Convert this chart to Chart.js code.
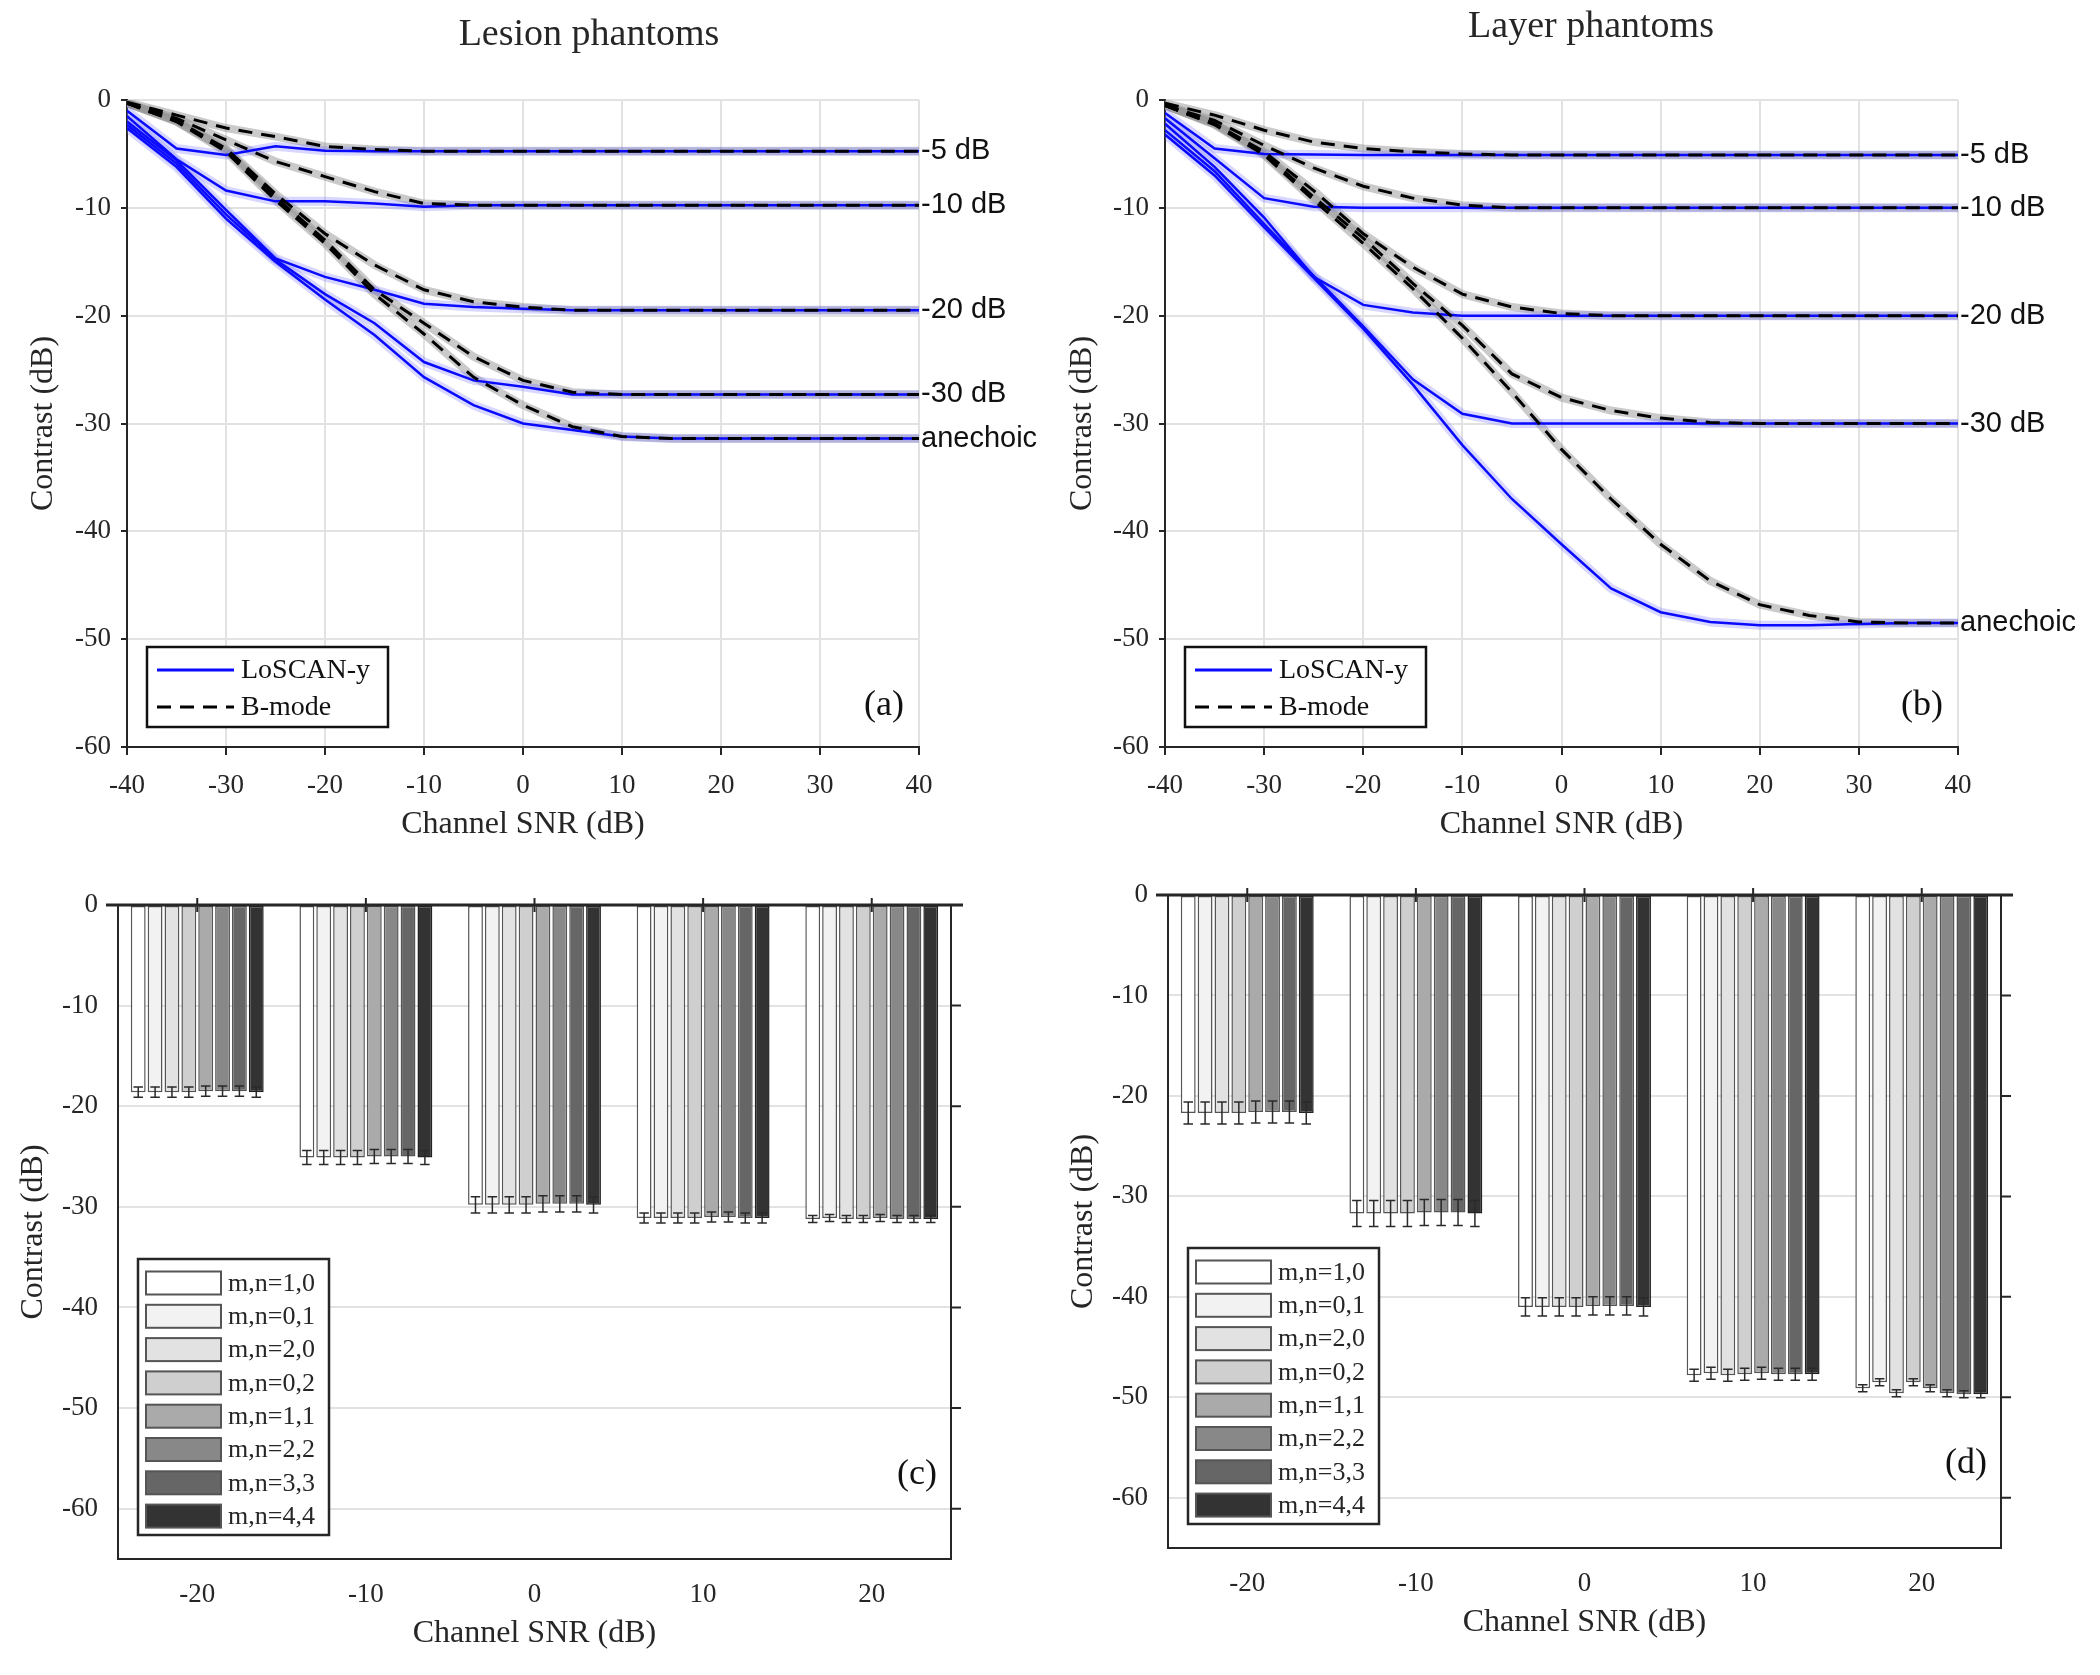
<!DOCTYPE html>
<html>
<head>
<meta charset="utf-8">
<script src="https://cdn.jsdelivr.net/npm/chart.js@4.4.1/dist/chart.umd.min.js"></script>
<style>
html,body{margin:0;padding:0;background:#fff;}
#wrap{position:relative;width:2100px;height:1675px;overflow:hidden;background:#fff;}
canvas{position:absolute;}
</style>
</head>
<body>
<div id="wrap">
<canvas id="ca" width="1050" height="850" style="left:0;top:0"></canvas>
<canvas id="cb" width="1050" height="850" style="left:1050px;top:0"></canvas>
<canvas id="cc" width="1050" height="825" style="left:0;top:850px"></canvas>
<canvas id="cd" width="1050" height="825" style="left:1050px;top:850px"></canvas>
</div>
<script>
// ================= DATA =================
const snr = [-40,-35,-30,-25,-20,-15,-10,-5,0,5,10,15,20,25,30,35,40];
const lineXTicks = [-40,-30,-20,-10,0,10,20,30,40];
const lineYTicks = [-60,-50,-40,-30,-20,-10,0];
const targetLabels = ['-5 dB','-10 dB','-20 dB','-30 dB','anechoic'];
const methodLabels = ['LoSCAN-y','B-mode'];

// (a) Lesion phantoms
const lesionLoscan5  = [-1.0,-4.5,-5.1,-4.3,-4.7,-4.75,-4.75,-4.75,-4.75,-4.75,-4.75,-4.75,-4.75,-4.75,-4.75,-4.75,-4.75];
const lesionLoscan10 = [-1.5,-5.5,-8.4,-9.4,-9.4,-9.6,-9.9,-9.75,-9.75,-9.75,-9.75,-9.75,-9.75,-9.75,-9.75,-9.75,-9.75];
const lesionLoscan20 = [-2.0,-5.6,-10.2,-14.7,-16.4,-17.6,-18.9,-19.2,-19.35,-19.5,-19.5,-19.5,-19.5,-19.5,-19.5,-19.5,-19.5];
const lesionLoscan30 = [-2.3,-5.9,-10.6,-14.8,-18.0,-20.7,-24.3,-26.0,-26.6,-27.3,-27.3,-27.3,-27.3,-27.3,-27.3,-27.3,-27.3];
const lesionLoscanAn = [-2.6,-6.2,-11.0,-15.0,-18.5,-21.8,-25.7,-28.3,-30.0,-30.6,-31.2,-31.4,-31.4,-31.4,-31.4,-31.4,-31.4];
const lesionBmode5   = [-0.2,-1.4,-2.6,-3.4,-4.3,-4.6,-4.75,-4.75,-4.75,-4.75,-4.75,-4.75,-4.75,-4.75,-4.75,-4.75,-4.75];
const lesionBmode10  = [-0.3,-1.7,-3.7,-5.7,-7.1,-8.5,-9.6,-9.75,-9.75,-9.75,-9.75,-9.75,-9.75,-9.75,-9.75,-9.75,-9.75];
const lesionBmode20  = [-0.3,-1.9,-4.5,-8.7,-12.4,-15.3,-17.6,-18.7,-19.2,-19.5,-19.5,-19.5,-19.5,-19.5,-19.5,-19.5,-19.5];
const lesionBmode30  = [-0.3,-2.0,-4.6,-9.0,-13.0,-17.6,-20.7,-23.8,-26.0,-27.1,-27.3,-27.3,-27.3,-27.3,-27.3,-27.3,-27.3];
const lesionBmodeAn  = [-0.3,-2.0,-4.8,-9.3,-13.3,-18.0,-21.7,-25.7,-28.3,-30.3,-31.2,-31.4,-31.4,-31.4,-31.4,-31.4,-31.4];

// (b) Layer phantoms
const layerLoscan5  = [-1.2,-4.5,-5.0,-5.05,-5.1,-5.1,-5.1,-5.1,-5.1,-5.1,-5.1,-5.1,-5.1,-5.1,-5.1,-5.1,-5.1];
const layerLoscan10 = [-1.7,-5.4,-9.1,-9.9,-10.0,-10.0,-10.0,-10.0,-10.0,-10.0,-10.0,-10.0,-10.0,-10.0,-10.0,-10.0,-10.0];
const layerLoscan20 = [-2.2,-6.2,-10.9,-16.4,-19.0,-19.7,-20.0,-20.0,-20.0,-20.0,-20.0,-20.0,-20.0,-20.0,-20.0,-20.0,-20.0];
const layerLoscan30 = [-2.8,-6.6,-11.5,-16.3,-21.0,-25.9,-29.1,-30.0,-30.0,-30.0,-30.0,-30.0,-30.0,-30.0,-30.0,-30.0,-30.0];
const layerLoscanAn = [-3.2,-7.0,-11.8,-16.5,-21.2,-26.4,-32.0,-37.0,-41.2,-45.3,-47.5,-48.4,-48.7,-48.7,-48.6,-48.5,-48.5];
const layerBmode5   = [-0.3,-1.4,-2.8,-3.9,-4.5,-4.8,-5.0,-5.1,-5.1,-5.1,-5.1,-5.1,-5.1,-5.1,-5.1,-5.1,-5.1];
const layerBmode10  = [-0.5,-1.9,-4.2,-6.3,-8.0,-9.1,-9.75,-10.0,-10.0,-10.0,-10.0,-10.0,-10.0,-10.0,-10.0,-10.0,-10.0];
const layerBmode20  = [-0.5,-2.2,-4.8,-8.4,-12.4,-15.5,-18.0,-19.2,-19.8,-20.0,-20.0,-20.0,-20.0,-20.0,-20.0,-20.0,-20.0];
const layerBmode30  = [-0.5,-2.2,-5.0,-9.0,-12.8,-17.0,-20.9,-25.4,-27.6,-28.8,-29.5,-29.9,-30.0,-30.0,-30.0,-30.0,-30.0];
const layerBmodeAn  = [-0.5,-2.3,-5.1,-9.3,-13.3,-17.5,-22.1,-27.1,-32.4,-37.0,-41.2,-44.6,-46.8,-47.8,-48.4,-48.5,-48.5];

// (c), (d) bar charts
const barSnr = [-20,-10,0,10,20];
const barYTicks = [-60,-50,-40,-30,-20,-10,0];
const kernelLabels = ['m,n=1,0','m,n=0,1','m,n=2,0','m,n=0,2','m,n=1,1','m,n=2,2','m,n=3,3','m,n=4,4'];

const lesionBar10 = [-18.6,-25.1,-29.8,-31.1,-31.2];
const lesionBar01 = [-18.6,-25.1,-29.8,-31.1,-31.1];
const lesionBar20 = [-18.6,-25.1,-29.8,-31.1,-31.2];
const lesionBar02 = [-18.6,-25.1,-29.8,-31.1,-31.2];
const lesionBar11 = [-18.5,-25.0,-29.7,-31.0,-31.1];
const lesionBar22 = [-18.5,-25.0,-29.7,-31.0,-31.2];
const lesionBar33 = [-18.5,-25.0,-29.7,-31.1,-31.2];
const lesionBar44 = [-18.6,-25.1,-29.8,-31.1,-31.2];
const lesionBarStd = [0.5,0.7,0.8,0.5,0.35];

const layerBar10 = [-21.7,-31.7,-41.0,-47.8,-49.1];
const layerBar01 = [-21.7,-31.7,-41.0,-47.6,-48.5];
const layerBar20 = [-21.7,-31.7,-41.0,-47.8,-49.6];
const layerBar02 = [-21.7,-31.7,-41.0,-47.7,-48.5];
const layerBar11 = [-21.6,-31.6,-40.9,-47.6,-49.1];
const layerBar22 = [-21.6,-31.6,-40.9,-47.7,-49.6];
const layerBar33 = [-21.6,-31.6,-40.9,-47.7,-49.7];
const layerBar44 = [-21.7,-31.7,-41.0,-47.7,-49.7];
const layerBarStd = [1.1,1.3,0.9,0.6,0.35];

// ================= STYLE =================
const SERIF = "'Liberation Serif','Times New Roman',serif";
const SANS = "'Liberation Sans',Arial,sans-serif";
const TXT = '#262626';
const BLUE = '#0a0aff';
const kernelColors = ['#ffffff','#f2f2f2','#e2e2e2','#cfcfcf','#aaaaaa','#888888','#666666','#333333'];
const tickFont = {family:SERIF, size:27};
const titleFont = {family:SERIF, size:32};

Chart.defaults.font.family = SERIF;
Chart.defaults.color = TXT;
Chart.defaults.animation = false;
Chart.defaults.plugins.legend.display = false;
Chart.defaults.plugins.tooltip.enabled = false;

function toPts(arr){ return snr.map((x,i)=>({x:x, y:arr[i]})); }

function makeLineDeco(p){
  return {
    id:'lineDeco',
    afterDraw(chart){
      const ctx = chart.ctx, a = chart.chartArea, y = chart.scales.y;
      ctx.save();
      ctx.fillStyle = TXT; ctx.textAlign='center'; ctx.textBaseline='middle';
      ctx.font = "38px " + SERIF;
      ctx.fillText(p.title, p.titleX, p.titleY);
      ctx.font = "29px " + SANS; ctx.textAlign='left'; ctx.fillStyle='#111';
      p.loscan.forEach((arr,i)=>{
        ctx.fillText(targetLabels[i], a.right+2, y.getPixelForValue(arr[arr.length-1]));
      });
      const lw=241, lh=80, lx=a.left+20, ly=a.bottom-20-lh;
      ctx.fillStyle='#fff'; ctx.fillRect(lx,ly,lw,lh);
      ctx.strokeStyle='#111'; ctx.lineWidth=2.5; ctx.strokeRect(lx,ly,lw,lh);
      const rows=[{c:BLUE,d:[]},{c:'#000',d:[14,9]}];
      rows.forEach((r,i)=>{
        const yy = ly+23+i*37;
        ctx.beginPath(); ctx.setLineDash(r.d); ctx.strokeStyle=r.c; ctx.lineWidth=3;
        ctx.moveTo(lx+10,yy); ctx.lineTo(lx+87,yy); ctx.stroke(); ctx.setLineDash([]);
        ctx.fillStyle='#111'; ctx.font="28px "+SERIF; ctx.textAlign='left';
        ctx.fillText(methodLabels[i], lx+94, yy+1);
      });
      ctx.font="36px "+SERIF; ctx.textAlign='right'; ctx.fillStyle='#111';
      ctx.fillText(p.letter, a.right-15, a.bottom-41);
      ctx.restore();
    }
  };
}

function lineChart(id, p){
  const ds=[];
  p.bmode.forEach(arr=>{
    ds.push({label:methodLabels[1]+' band', data:toPts(arr), borderColor:'rgba(150,150,150,0.5)', borderWidth:8, pointRadius:0, order:4, borderJoinStyle:'round', borderCapStyle:'round'});
    ds.push({label:methodLabels[1], data:toPts(arr), borderColor:'#000', borderWidth:3, borderDash:[14,9], pointRadius:0, order:1});
  });
  p.loscan.forEach(arr=>{
    ds.push({label:methodLabels[0]+' band', data:toPts(arr), borderColor:'rgba(110,110,255,0.28)', borderWidth:9, pointRadius:0, order:3, borderJoinStyle:'round', borderCapStyle:'round'});
    ds.push({label:methodLabels[0], data:toPts(arr), borderColor:BLUE, borderWidth:2.5, pointRadius:0, order:2});
  });
  return new Chart(document.getElementById(id), {
    type:'line',
    data:{datasets:ds},
    options:{
      responsive:false, maintainAspectRatio:false, devicePixelRatio:1,
      layout:{padding:{left:0, top:100, right:p.padRight, bottom:0}},
      elements:{line:{tension:0}},
      scales:{
        x:{type:'linear', min:-40, max:40,
          afterBuildTicks:s=>{s.ticks=lineXTicks.map(v=>({value:v}));},
          afterFit:s=>{s.height=103;},
          grid:{color:'#e2e2e2', lineWidth:2, tickColor:TXT, tickLength:8, tickWidth:2},
          border:{color:TXT, width:2},
          ticks:{font:tickFont, padding:15, maxRotation:0, color:TXT},
          title:{display:true, text:'Channel SNR (dB)', font:titleFont, color:TXT, padding:{top:0,bottom:6}}
        },
        y:{type:'linear', min:-60, max:0,
          afterBuildTicks:s=>{s.ticks=lineYTicks.map(v=>({value:v}));},
          afterFit:s=>{s.width=p.yWidth;},
          grid:{color:'#e2e2e2', lineWidth:2, tickColor:TXT, tickLength:6, tickWidth:2},
          border:{color:TXT, width:2},
          ticks:{font:tickFont, padding:10, color:TXT},
          title:{display:true, text:'Contrast (dB)', font:titleFont, color:TXT, padding:{top:p.yTitlePad,bottom:0}}
        }
      }
    },
    plugins:[makeLineDeco(p)]
  });
}

function makeBarDeco(p){
  return {
    id:'barDeco',
    afterDatasetsDraw(chart){
      const ctx=chart.ctx, y=chart.scales.y;
      ctx.save(); ctx.strokeStyle='#2a2a2a'; ctx.lineWidth=1.5;
      p.values.forEach((vals,di)=>{
        const meta=chart.getDatasetMeta(di);
        meta.data.forEach((bar,j)=>{
          const v=vals[j], e=p.err[j];
          const y1=y.getPixelForValue(v+e), y2=y.getPixelForValue(v-e);
          const hw=Math.max(4, bar.width*0.32);
          ctx.beginPath();
          ctx.moveTo(bar.x,y1); ctx.lineTo(bar.x,y2);
          ctx.moveTo(bar.x-hw,y1); ctx.lineTo(bar.x+hw,y1);
          ctx.moveTo(bar.x-hw,y2); ctx.lineTo(bar.x+hw,y2);
          ctx.stroke();
        });
      });
      ctx.restore();
    },
    afterDraw(chart){
      const ctx=chart.ctx, a=chart.chartArea, x=chart.scales.x, y=chart.scales.y;
      ctx.save();
      ctx.strokeStyle=TXT; ctx.lineWidth=2;
      ctx.strokeRect(a.left,a.top,a.right-a.left,a.bottom-a.top);
      const y0=y.getPixelForValue(0);
      ctx.lineWidth=3;
      ctx.beginPath(); ctx.moveTo(a.left-12,y0); ctx.lineTo(a.right+12,y0); ctx.stroke();
      ctx.lineWidth=2; ctx.beginPath();
      barYTicks.forEach(v=>{ const py=y.getPixelForValue(v); ctx.moveTo(a.right,py); ctx.lineTo(a.right+10,py); });
      barSnr.forEach(v=>{ const px=x.getPixelForValue(v); ctx.moveTo(px,y0-7); ctx.lineTo(px,y0+7); });
      ctx.stroke();
      const lw=191, rowH=33.3, lh=276, lx=a.left+20, ly=a.bottom-24-lh;
      ctx.fillStyle='#fff'; ctx.fillRect(lx,ly,lw,lh);
      ctx.strokeStyle=TXT; ctx.lineWidth=2.5; ctx.strokeRect(lx,ly,lw,lh);
      kernelLabels.forEach((lab,i)=>{
        const cy=ly+24+i*rowH;
        ctx.fillStyle=kernelColors[i]; ctx.fillRect(lx+8,cy-11.5,75,23);
        ctx.strokeStyle='#555'; ctx.lineWidth=2; ctx.strokeRect(lx+8,cy-11.5,75,23);
        ctx.fillStyle=TXT; ctx.font="26px "+SERIF; ctx.textAlign='left'; ctx.textBaseline='middle';
        ctx.fillText(lab, lx+90, cy+1);
      });
      ctx.font="36px "+SERIF; ctx.textAlign='right'; ctx.textBaseline='middle'; ctx.fillStyle='#111';
      ctx.fillText(p.letter, a.right-14, a.bottom-84);
      ctx.restore();
    }
  };
}

function barChart(id, p){
  const ds = p.values.map((vals,i)=>({
    label:kernelLabels[i],
    data:barSnr.map((s,j)=>({x:s, y:vals[j]})),
    backgroundColor:kernelColors[i],
    borderColor:i===7?'#222':'#555',
    borderWidth:1.5,
    borderSkipped:false,
    barPercentage:0.88,
    categoryPercentage:0.8
  }));
  return new Chart(document.getElementById(id), {
    type:'bar',
    data:{datasets:ds},
    options:{
      responsive:false, maintainAspectRatio:false, devicePixelRatio:1,
      layout:{padding:{left:0, top:p.padTop, right:99, bottom:0}},
      scales:{
        x:{type:'linear', min:-24.7, max:24.7, offset:false,
          afterBuildTicks:s=>{s.ticks=barSnr.map(v=>({value:v}));},
          afterFit:s=>{s.height=p.xHeight;},
          grid:{display:false, drawTicks:false, offset:false},
          border:{display:false},
          ticks:{font:tickFont, padding:20, maxRotation:0, color:TXT},
          title:{display:true, text:'Channel SNR (dB)', font:titleFont, color:TXT, padding:{top:0,bottom:p.xTitlePad}}
        },
        y:{type:'linear', min:-65, max:0,
          afterBuildTicks:s=>{s.ticks=barYTicks.map(v=>({value:v}));},
          afterFit:s=>{s.width=118;},
          grid:{color:'#e2e2e2', lineWidth:2, drawTicks:false},
          border:{display:false},
          ticks:{font:tickFont, padding:20, color:TXT},
          title:{display:true, text:'Contrast (dB)', font:titleFont, color:TXT, padding:{top:14,bottom:0}}
        }
      }
    },
    plugins:[makeBarDeco(p)]
  });
}

lineChart('ca', {
  title:'Lesion phantoms', titleX:589, titleY:35, letter:'(a)',
  padRight:131, yWidth:127, yTitlePad:24,
  loscan:[lesionLoscan5,lesionLoscan10,lesionLoscan20,lesionLoscan30,lesionLoscanAn],
  bmode:[lesionBmode5,lesionBmode10,lesionBmode20,lesionBmode30,lesionBmodeAn]
});
lineChart('cb', {
  title:'Layer phantoms', titleX:541, titleY:27, letter:'(b)',
  padRight:142, yWidth:115, yTitlePad:13,
  loscan:[layerLoscan5,layerLoscan10,layerLoscan20,layerLoscan30,layerLoscanAn],
  bmode:[layerBmode5,layerBmode10,layerBmode20,layerBmode30,layerBmodeAn]
});
barChart('cc', {
  letter:'(c)', padTop:55, xHeight:116, xTitlePad:22,
  values:[lesionBar10,lesionBar01,lesionBar20,lesionBar02,lesionBar11,lesionBar22,lesionBar33,lesionBar44],
  err:lesionBarStd
});
barChart('cd', {
  letter:'(d)', padTop:45, xHeight:127, xTitlePad:33,
  values:[layerBar10,layerBar01,layerBar20,layerBar02,layerBar11,layerBar22,layerBar33,layerBar44],
  err:layerBarStd
});
</script>
</body>
</html>
